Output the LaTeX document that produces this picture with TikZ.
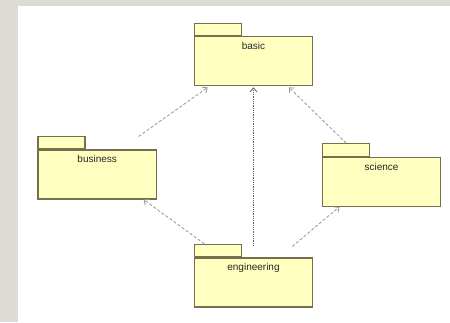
\documentclass[tikz,border=0pt]{standalone}
\usepackage{fontspec}
\setmainfont{Liberation Sans}
\usepackage{tikz}
\usetikzlibrary{arrows.meta}
\usetikzlibrary{positioning}
\definecolor{pkgfill}{RGB}{255,255,192}
\definecolor{pkgline}{RGB}{118,110,78}
\definecolor{depgray}{RGB}{150,150,150}
\definecolor{depdark}{RGB}{95,95,95}
\definecolor{margin}{RGB}{222,219,214}
\tikzset{
  pkg_b/.style = {rectangle, draw=pkgline, fill=pkgfill, line width=1.1pt,
    minimum width=118.5pt, minimum height=49pt, inner sep=0pt},% package, corps
  pkg_t/.style = {rectangle, draw=pkgline, fill=pkgfill, line width=1.1pt,
    minimum width=47pt, minimum height=12.5pt, inner sep=0pt,
    anchor=south west},% package, onglet
  pkg_l/.style = {inner sep=0pt, text=black!85,
    font=\fontsize{10}{12}\selectfont},% package, nom
  dep/.style = {draw=depgray, line width=0.8pt, dash pattern=on 3pt off 2pt,
    -{Straight Barb[length=4pt,width=7pt]}}% dependance
}

\begin{document}
\begin{tikzpicture}[x=1pt,y=-1pt]
\fill[margin] (0,0) rectangle (450,322);
\fill[white] (18,6) rectangle (450,322);

\node [pkg_b] (ba) at (253.5,61.3) {};
\node [pkg_t] (ba_t) at (ba.north west) {};
\node [pkg_b] (bu) at (97.2,174.5) {};
\node [pkg_t] (bu_t) at (bu.north west) {};
\node [pkg_b] (sc) at (381.5,181.7) {};
\node [pkg_t] (sc_t) at (sc.north west) {};
\node [pkg_b] (en) at (253.5,282.5) {};
\node [pkg_t] (en_t) at (en.north west) {};

\node [pkg_l, below=6pt of ba.north] (ba_l) {basic};
\node [pkg_l, below=6pt of bu.north] (bu_l) {business};
\node [pkg_l, below=6pt of sc.north] (sc_l) {science};
\node [pkg_l, below=6pt of en.north] (en_l) {engineering};

\draw[dep] ([shift={(-18.4pt,13pt)}]bu.north east) -- ([shift={(14pt,-1pt)}]ba.south west);
\draw[dep] ([shift={(24.4pt,0pt)}]sc_t.north west) -- ([shift={(-24.4pt,-1pt)}]ba.south east);
\draw[dep, draw=depdark, densely dotted] ([yshift=11.7pt]en.north) -- ([yshift=-1pt]ba.south);
\draw[dep] ([shift={(10.7pt,0pt)}]en_t.north west) -- ([shift={(-13.4pt,0pt)}]bu.south east);
\draw[dep] ([shift={(-21pt,11pt)}]en.north east) -- ([shift={(17.7pt,0pt)}]sc.south west);
\end{tikzpicture}
\end{document}
